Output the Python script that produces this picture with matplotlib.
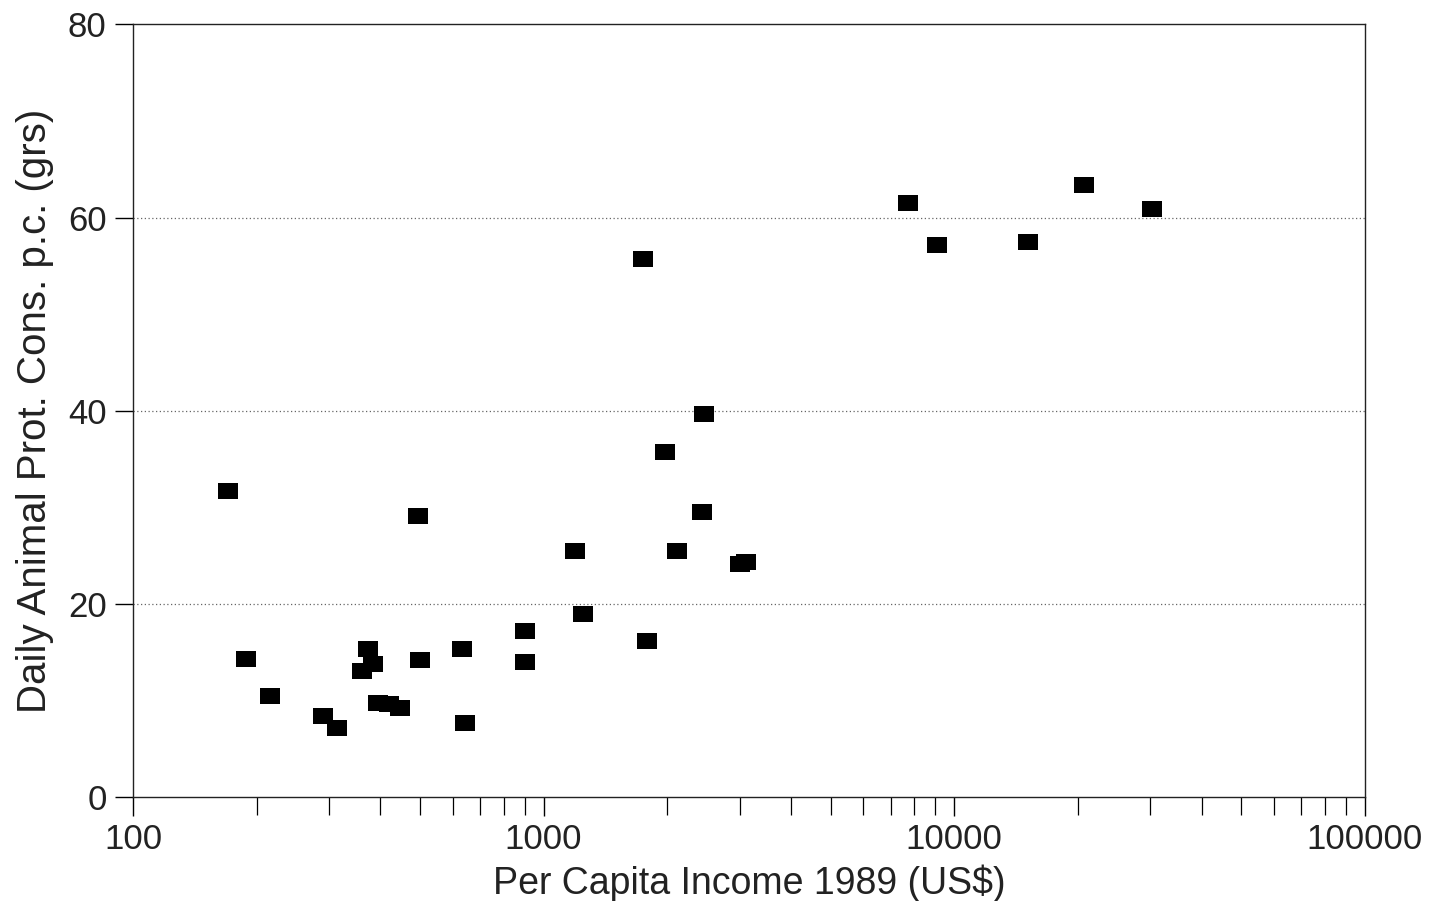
import numpy as np
import matplotlib
matplotlib.use("Agg")
import matplotlib.pyplot as plt
from matplotlib.ticker import FixedLocator, FixedFormatter, LogLocator, NullFormatter

plt.rcParams['font.family'] = ['Liberation Sans', 'DejaVu Sans']

# per capita income 1989 (US$) and daily animal protein consumption (grs)
income = [170, 189, 216, 290, 314, 361, 374, 384, 395, 420, 447, 494, 500,
          633, 644, 902, 902, 1193, 1248, 1746, 1786, 1977, 2115, 2433, 2462,
          3012, 3115, 7727, 9100, 15150, 20740, 30350]
protein = [31.7, 14.3, 10.5, 8.4, 7.1, 13.0, 15.3, 13.8, 9.7, 9.6, 9.2, 29.1, 14.2,
           15.3, 7.7, 17.2, 14.0, 25.5, 18.9, 55.7, 16.2, 35.7, 25.5, 29.5, 39.7,
           24.1, 24.3, 61.5, 57.2, 57.5, 63.4, 60.9]

fig = plt.figure(figsize=(14.45, 9.01), dpi=100)
ax = fig.add_axes([0.092, 0.1154, 0.8526, 0.8576])

rect = [(-1, -0.8), (1, -0.8), (1, 0.8), (-1, 0.8), (-1, -0.8)]
ax.scatter(income, protein, marker=rect, s=215, c='black', zorder=3, linewidths=0)

ax.set_xscale('log')
ax.set_xlim(100, 100000)
ax.set_ylim(0, 80)

for yv in [20, 40, 60]:
    ax.axhline(yv, color='#666666', linestyle=(0, (1, 2)), linewidth=0.9, zorder=1)

ax.xaxis.set_major_locator(FixedLocator([100, 1000, 10000, 100000]))
ax.xaxis.set_major_formatter(FixedFormatter(['100', '1000', '10000', '100000']))
ax.xaxis.set_minor_locator(LogLocator(base=10, subs=np.arange(2, 10)))
ax.xaxis.set_minor_formatter(NullFormatter())
ax.set_yticks([0, 20, 40, 60, 80])

ax.tick_params(axis='x', which='major', direction='out', length=14, width=1.0,
               labelsize=25, pad=5, labelcolor='#222222')
ax.tick_params(axis='x', which='minor', direction='out', length=13, width=0.9)
ax.tick_params(axis='y', direction='out', length=13, width=1.0, labelsize=25, pad=6,
               labelcolor='#222222')

for sp in ax.spines.values():
    sp.set_linewidth(1.0)
    sp.set_color('#222222')

ax.set_xlabel('Per Capita Income 1989 (US$)', fontsize=27, color='#222222', labelpad=6)
ax.set_ylabel('Daily Animal Prot. Cons. p.c. (grs)', fontsize=29, color='#222222', labelpad=10)

fig.savefig('out.png', dpi=100)
